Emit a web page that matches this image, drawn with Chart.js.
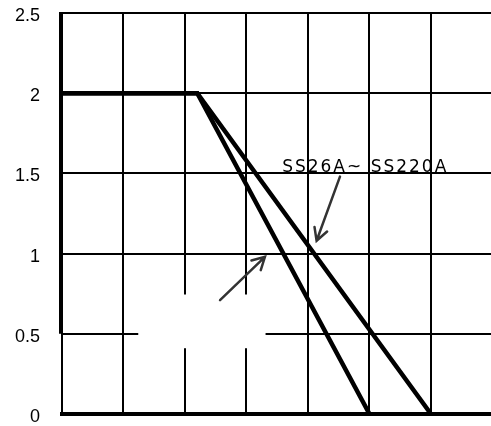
<!DOCTYPE html>
<html>
<head>
<meta charset="utf-8">
<script src="https://cdn.jsdelivr.net/npm/chart.js@4/dist/chart.umd.min.js"></script>
<style>
	html, body { margin: 0; padding: 0; background: #fff; }
	#wrap { width: 491px; height: 426px; }
</style>
</head>
<body>
<div id="wrap"><canvas id="curveChart"></canvas></div>
<script>
// values
var yTicks = [0, 0.5, 1, 1.5, 2, 2.5];
var xTicks = [0, 1, 2, 3, 4, 5, 6];
var lowerX = [0, 2.2, 5];
var lowerY = [2, 2, 0];
var upperX = [0, 2.2, 6];
var upperY = [2, 2, 0];
var curveLabel = 'SS26A~ SS220A';

// annotation placement, in axis units
var labelAt = { x: 3.58, y: 1.51 };
var arrows = [
	{ from: { x: 4.52, y: 1.48 }, to: { x: 4.14, y: 1.08 } },
	{ from: { x: 2.57, y: 0.71 }, to: { x: 3.30, y: 0.98 } }
];
var blankBox = { x0: 1.24, x1: 3.31, y0: 0.41, y1: 0.745 };

function toPoints(xs, ys) {
	var pts = [];
	for (var i = 0; i < xs.length; i++) {
		pts.push({ x: xs[i], y: ys[i] });
	}
	return pts;
}

var decor = {
	id: 'decor',
	beforeDatasetsDraw: function (chart) {
		var ctx = chart.ctx, xs = chart.scales.x, ys = chart.scales.y;
		ctx.save();
		// blank patch left where a label was removed
		ctx.fillStyle = '#fff';
		var l = xs.getPixelForValue(blankBox.x0), r = xs.getPixelForValue(blankBox.x1);
		var t = ys.getPixelForValue(blankBox.y1), b = ys.getPixelForValue(blankBox.y0);
		ctx.fillRect(l, t, r - l, b - t);
		// heavy left axis, top part only
		ctx.strokeStyle = '#000';
		ctx.lineWidth = 4;
		ctx.beginPath();
		ctx.moveTo(chart.chartArea.left - 1, ys.getPixelForValue(2.5) - 1);
		ctx.lineTo(chart.chartArea.left - 1, ys.getPixelForValue(0.5));
		ctx.stroke();
		ctx.restore();
	},
	afterDatasetsDraw: function (chart) {
		var ctx = chart.ctx, xs = chart.scales.x, ys = chart.scales.y;
		ctx.save();
		ctx.fillStyle = '#000';
		ctx.font = '17px "DejaVu Sans"';
		ctx.letterSpacing = '2px';
		ctx.textBaseline = 'alphabetic';
		ctx.fillText(curveLabel, xs.getPixelForValue(labelAt.x), ys.getPixelForValue(labelAt.y));

		ctx.strokeStyle = '#333';
		ctx.lineWidth = 2.5;
		ctx.lineCap = 'round';
		arrows.forEach(function (a) {
			var x1 = xs.getPixelForValue(a.from.x), y1 = ys.getPixelForValue(a.from.y);
			var x2 = xs.getPixelForValue(a.to.x), y2 = ys.getPixelForValue(a.to.y);
			var ang = Math.atan2(y2 - y1, x2 - x1);
			var head = 14;
			ctx.beginPath();
			ctx.moveTo(x1, y1);
			ctx.lineTo(x2, y2);
			ctx.moveTo(x2 - head * Math.cos(ang - 0.5), y2 - head * Math.sin(ang - 0.5));
			ctx.lineTo(x2, y2);
			ctx.lineTo(x2 - head * Math.cos(ang + 0.5), y2 - head * Math.sin(ang + 0.5));
			ctx.stroke();
		});
		ctx.restore();
	}
};

const ctx = document.getElementById('curveChart');
new Chart(ctx, {
	type: 'line',
	data: {
		datasets: [{
			data: toPoints(lowerX, lowerY),
			borderColor: '#000',
			borderWidth: 4.5,
			pointRadius: 0,
			tension: 0
		}, {
			data: toPoints(upperX, upperY),
			borderColor: '#000',
			borderWidth: 4.5,
			pointRadius: 0,
			tension: 0
		}]
	},
	options: {
		animation: false,
		responsive: true,
		maintainAspectRatio: false,
		layout: {
			padding: { top: 13, right: 0, bottom: 12, left: 0 }
		},
		scales: {
			x: {
				type: 'linear',
				min: 0,
				max: 6.976,
				afterBuildTicks: function (scale) {
					scale.ticks = xTicks.map(function (v) { return { value: v }; });
				},
				afterFit: function (scale) {
					scale.height = 0;
					scale.paddingLeft = 0;
					scale.paddingRight = 0;
				},
				border: {
					display: true,
					color: '#000',
					width: 4
				},
				grid: {
					color: '#000',
					lineWidth: 2,
					drawTicks: false
				},
				ticks: {
					display: false
				}
			},
			y: {
				min: 0,
				max: 2.5,
				afterBuildTicks: function (scale) {
					scale.ticks = yTicks.map(function (v) { return { value: v }; });
				},
				afterFit: function (scale) {
					scale.width = 62;
					scale.paddingTop = 0;
					scale.paddingBottom = 0;
				},
				border: {
					display: false
				},
				grid: {
					color: '#000',
					lineWidth: 2,
					drawTicks: false
				},
				ticks: {
					color: '#000',
					padding: 22,
					labelOffset: 3,
					font: { family: '"Liberation Sans", Arial, sans-serif', size: 18 },
					callback: function (v) { return String(v); }
				}
			}
		},
		plugins: {
			legend: { display: false },
			tooltip: { enabled: false }
		}
	},
	plugins: [decor]
});
</script>
</body>
</html>
